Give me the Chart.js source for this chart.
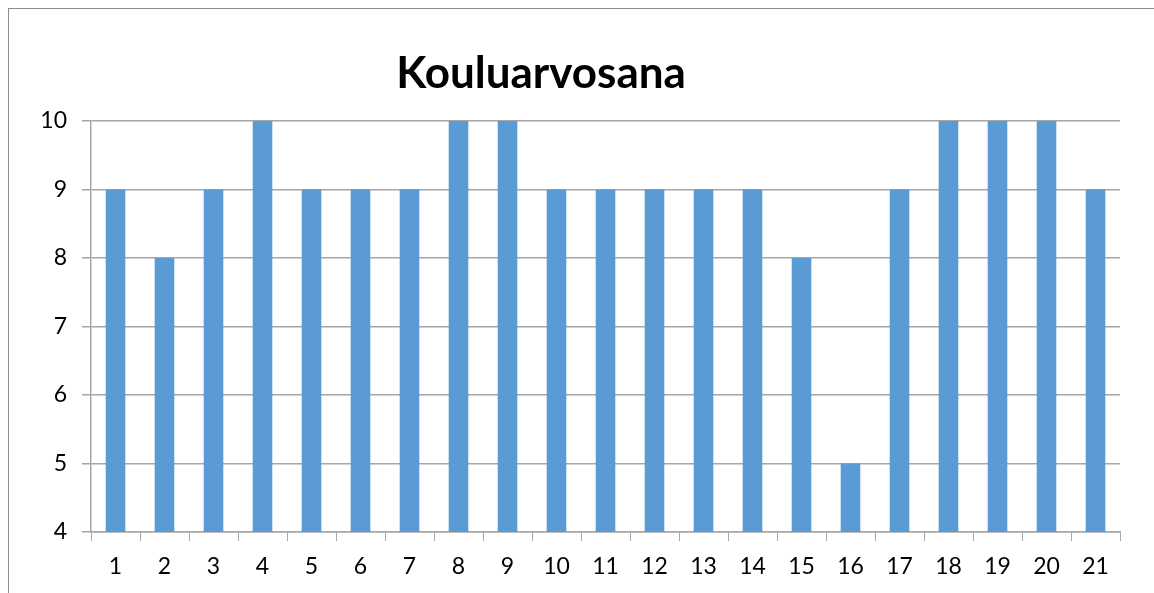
<!DOCTYPE html>
<html>
<head>
<meta charset="utf-8">
<script src="https://cdn.jsdelivr.net/npm/chart.js@4"></script>
<style>
  html, body { margin: 0; padding: 0; background: #fff; }
  #wrap { position: relative; width: 1154px; height: 593px; }
  #frame { position: absolute; left: 8px; top: 8px; right: -10px; bottom: -10px;
           border-left: 1px solid #8c8c8c; border-top: 1px solid #8c8c8c; }
  canvas { position: absolute; left: 0; top: 0; }
</style>
</head>
<body>
<div id="wrap">
  <div id="frame"></div>
  <canvas id="gradeChart" width="1154" height="593"></canvas>
</div>
<script>
const chartTitle = 'Kouluarvosana';
const labels = ['1','2','3','4','5','6','7','8','9','10','11','12','13','14','15','16','17','18','19','20','21'];
const grades = [9, 8, 9, 10, 9, 9, 9, 10, 10, 9, 9, 9, 9, 9, 8, 5, 9, 10, 10, 10, 9];
const yMin = 4, yMax = 10;

const fontFamily = 'Lato, "Open Sans", sans-serif';
const gridColor = '#a6a6a6';

// title drawn at fixed spot (it is not centred over the plot in the original)
const titlePlugin = {
  id: 'fixedTitle',
  afterDraw(chart) {
    const c = chart.ctx;
    c.save();
    c.font = `bold 44px ${fontFamily}`;
    c.fillStyle = '#000';
    c.textAlign = 'center';
    c.textBaseline = 'middle';
    c.fillText(chartTitle, 541, 74);
    c.restore();
  }
};

const ctx = document.getElementById('gradeChart').getContext('2d');
new Chart(ctx, {
  type: 'bar',
  data: {
    labels,
    datasets: [{ label: chartTitle, data: grades, backgroundColor: '#5b9bd5',
                 barPercentage: 0.4, categoryPercentage: 1 }]
  },
  options: {
    responsive: false, animation: false,
    layout: { padding: { top: 121, right: 34, left: 0, bottom: 0 } },
    plugins: { legend: { display: false }, tooltip: { enabled: false } },
    scales: {
      x: {
        offset: true,
        grid: { display: true, drawOnChartArea: false, tickLength: 9, color: gridColor, offset: true },
        border: { color: gridColor, width: 1.5 },
        ticks: { color: '#000', font: { family: fontFamily, size: 23 }, padding: 12, maxRotation: 0 },
        afterFit: s => { s.height = 61; }
      },
      y: {
        min: yMin, max: yMax,
        grid: { color: gridColor, tickLength: 9, lineWidth: 1.5 },
        border: { color: gridColor, width: 1.5 },
        ticks: { stepSize: 1, color: '#000', font: { family: fontFamily, size: 23 }, padding: 15 },
        afterFit: s => { s.width = 91; }
      }
    }
  },
  plugins: [titlePlugin]
});
</script>
</body>
</html>
